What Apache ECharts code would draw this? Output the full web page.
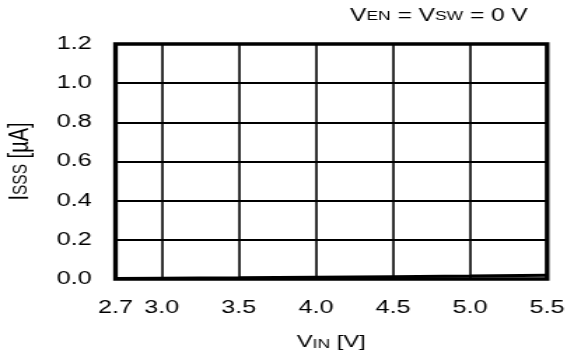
<!DOCTYPE html>
<html>
<head>
<meta charset="utf-8">
<script src="https://cdn.jsdelivr.net/npm/echarts@6/dist/echarts.min.js"></script>
<style>
  html, body { margin: 0; padding: 0; background: #fff; overflow: hidden; }
  /* The figure uses a horizontally widened typeface; the whole chart is
     drawn narrower and stretched sideways to get that look. */
  #wrap { width: 566px; height: 356px; overflow: hidden; }
  #chart { width: 404.2857px; height: 356px; transform: scaleX(1.4); transform-origin: 0 0; }
</style>
</head>
<body>
<div id="wrap"><div id="chart"></div></div>
<script>
// Shutdown supply current vs. input voltage
const vinValues = [2.7, 3.0, 3.5, 4.0, 4.5, 5.0, 5.5];
const isssValues = [0.003, 0.004, 0.006, 0.009, 0.012, 0.015, 0.019];
const xTickValues = [2.7, 3.0, 3.5, 4.0, 4.5, 5.0, 5.5];
const xGridValues = [3.0, 3.5, 4.0, 4.5, 5.0];

const FONT = 'Liberation Sans, Arial, sans-serif';

const chart = echarts.init(document.getElementById('chart'), null, { renderer: 'canvas' });

chart.setOption({
  animation: false,
  backgroundColor: '#fff',
  grid: {
    left: 82.5, right: 13.2, top: 44, bottom: 77,
    containLabel: false, outerBoundsMode: 'none',
    show: true, borderColor: '#000', borderWidth: 3.3, backgroundColor: 'transparent'
  },
  xAxis: {
    type: 'value', min: 2.7, max: 5.5,
    axisLine: { show: false },
    axisTick: { show: false, customValues: xTickValues },
    splitLine: { show: false },
    axisLabel: {
      customValues: xTickValues,
      formatter: v => v.toFixed(1),
      color: '#000', fontSize: 18, fontFamily: FONT, margin: 20
    },
    name: 'V{s|IN} [V]',
    nameLocation: 'middle', nameGap: 55,
    nameTextStyle: {
      color: '#000', fontSize: 17, fontFamily: FONT,
      rich: { s: { fontSize: 12.5, fontFamily: FONT, color: '#000', verticalAlign: 'bottom' } }
    }
  },
  yAxis: {
    type: 'value', min: 0, max: 1.2, interval: 0.2,
    axisLine: { show: false },
    axisTick: { show: false },
    splitLine: { show: true, lineStyle: { color: '#000', width: 1.8 } },
    axisLabel: {
      formatter: v => v.toFixed(1),
      color: '#000', fontSize: 18, fontFamily: FONT, margin: 17
    },
    name: 'I{s|SSS} [µA]',
    nameLocation: 'middle', nameGap: 58, nameRotate: 90,
    nameTextStyle: {
      color: '#000', fontSize: 20, fontFamily: FONT,
      rich: { s: { fontSize: 15.5, fontFamily: FONT, color: '#000' } }
    }
  },
  series: [
    {
      type: 'line',
      data: vinValues.map((v, i) => [v, isssValues[i]]),
      showSymbol: false,
      lineStyle: { color: '#000', width: 3 },
      z: 3,
      markLine: {
        silent: true,
        symbol: 'none',
        label: { show: false },
        lineStyle: { color: '#000', width: 1.6, type: 'solid' },
        data: xGridValues.map(v => ({ xAxis: v }))
      }
    }
  ],
  graphic: [
    {
      type: 'text',
      right: 27, top: 7.5,
      style: {
        text: 'V{s|EN} = V{s|SW} = 0 V',
        fill: '#000', fontSize: 17.5, fontFamily: FONT,
        rich: { s: { fontSize: 12.5, fontFamily: FONT, fill: '#000' } }
      }
    }
  ]
});
</script>
</body>
</html>
